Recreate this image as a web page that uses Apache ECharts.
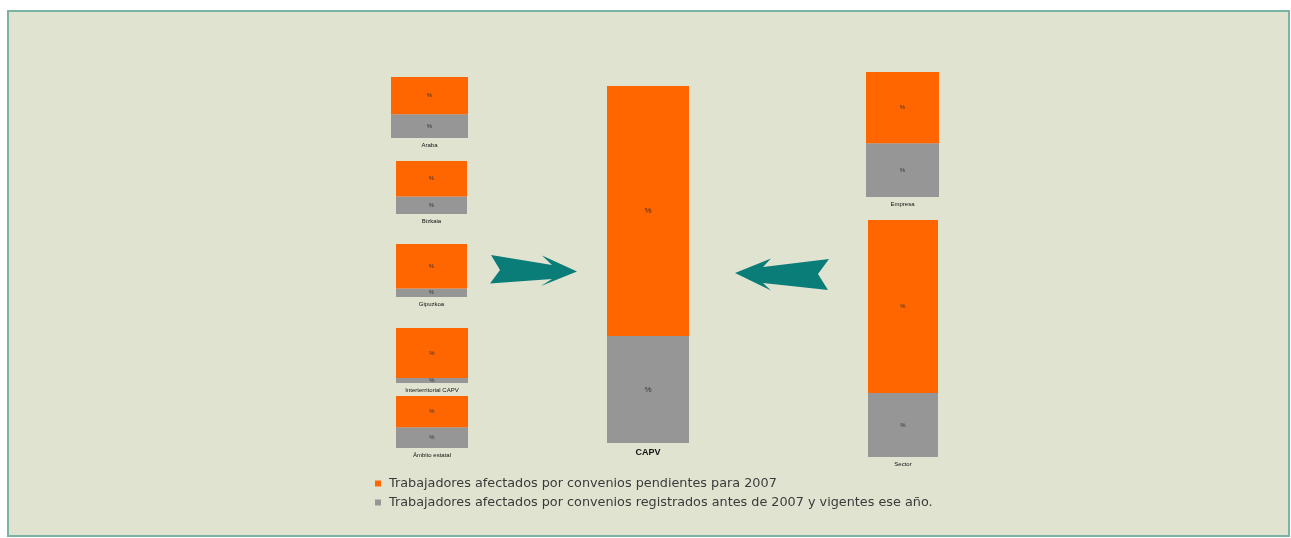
<!DOCTYPE html>
<html><head><meta charset="utf-8">
<script src="https://cdn.jsdelivr.net/npm/echarts@6/dist/echarts.min.js"></script>
<style>html,body{margin:0;padding:0;background:#fff}#c{width:1291px;height:538px}</style>
</head><body><div id="c"></div>
<script>
// Data (share of workers in each bar, %)
const categories = ['Araba','Bizkaia','Gipuzkoa','Interterritorial CAPV','Ámbito estatal','CAPV','Empresa','Sector'];
const pendientes = [61,67,84,91,60,70,57,73];
const vigentes = [39,33,16,9,40,30,43,27];
const seriesNames = ['Trabajadores afectados por convenios pendientes para 2007',
  'Trabajadores afectados por convenios registrados antes de 2007 y vigentes ese año.'];
const segmentLabel = '%';

// Layout (pixel boxes of each bar's grid)
const boxes = [
  {left:391, top:77, width:77, height:61},
  {left:396, top:161, width:71, height:53},
  {left:396, top:244, width:71, height:53},
  {left:396, top:328, width:72, height:55},
  {left:396, top:396, width:72, height:52},
  {left:607, top:86, width:82, height:357},
  {left:866, top:72, width:73, height:125},
  {left:868, top:220, width:70, height:237}
];
const colors = ['#ff6600', '#969696'];

const grids = [], xAxes = [], yAxes = [], series = [];
categories.forEach((cat, i) => {
  const b = boxes[i];
  const big = i === 5;
  grids.push({left:b.left, top:b.top, width:b.width, height:b.height});
  xAxes.push({type:'category', gridIndex:i, data:[cat],
    axisLine:{show:false}, axisTick:{show:false},
    axisLabel:{show:true, interval:0, margin: big?5:4, fontSize: big?9:6, fontWeight: big?'bold':'normal',
      color:'#111', fontFamily:'Liberation Sans, Arial, sans-serif'}});
  yAxes.push({type:'value', gridIndex:i, min:0, max:100, show:false, splitLine:{show:false}});
  // gray (vigentes) at the bottom, orange (pendientes) on top
  [[vigentes,1],[pendientes,0]].forEach(([arr, k]) => {
    series.push({type:'bar', name:seriesNames[k], xAxisIndex:i, yAxisIndex:i, stack:'s'+i,
      barWidth:'100%', data:[arr[i]], itemStyle:{color:colors[k]}, silent:true,
      label:{show:true, position:'inside', formatter:segmentLabel, fontSize: big?8:6, color:'#333'}});
  });
});

const chart = echarts.init(document.getElementById('c'), null, {renderer:'canvas'});
chart.setOption({
  animation:false,
  backgroundColor:'#ffffff',
  color:colors,
  grid:grids, xAxis:xAxes, yAxis:yAxes, series:series,
  legend:{data:seriesNames, orient:'vertical', left:370, top:472, itemGap:6,
    icon:'rect', itemWidth:6, itemHeight:6,
    textStyle:{fontSize:12.8, color:'#3a3a3a', fontFamily:'DejaVu Sans, sans-serif', padding:[0,0,0,3]}},
  graphic:[
    {type:'rect', z:-10, shape:{x:8, y:11, width:1281, height:525},
      style:{fill:'#e1e3d1', stroke:'#7cb4a4', lineWidth:2}},
    {type:'polygon', shape:{points:[[491,255],[552,265],[542,255.5],[577,271.5],[541,286],[552,279],[490,283.5],[500,270]]},
      style:{fill:'#0b7d78'}},
    {type:'polygon', shape:{points:[[829,259],[763,267],[771,258.5],[735,273],[771,290.5],[763,283],[828,290],[818,274]]},
      style:{fill:'#0b7d78'}}
  ]
});
</script></body></html>
